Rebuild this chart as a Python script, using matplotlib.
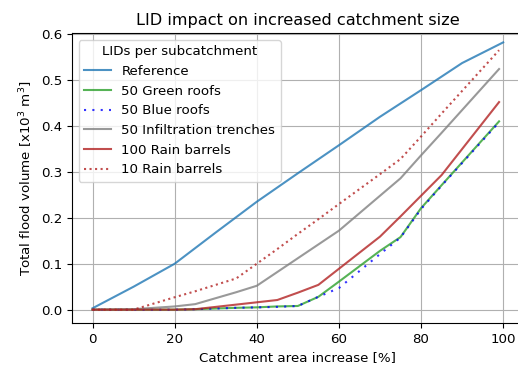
import numpy as np
import matplotlib
matplotlib.use('Agg')
import matplotlib.pyplot as plt

# catchment area increase [%]
area_ref = [0, 10, 20, 30, 40, 50, 60, 70, 80, 90, 100]
area_lid = [0, 10, 20, 25, 35, 40, 45, 50, 55, 60, 70, 75, 80, 85, 99]

# total flood volume [x10^3 m^3]
vol_ref = [0.003, 0.05, 0.1, 0.168, 0.235, 0.297, 0.358, 0.42, 0.478, 0.537, 0.582]
vol_green = [0, 0, 0, 0.001, 0.004, 0.005, 0.007, 0.008, 0.028, 0.061, 0.128, 0.158, 0.221, 0.271, 0.41]
vol_blue = [0, 0, 0, 0.001, 0.004, 0.005, 0.006, 0.008, 0.028, 0.047, 0.121, 0.157, 0.219, 0.27, 0.408]
vol_trench = [0, 0.001, 0.007, 0.012, 0.038, 0.052, 0.082, 0.112, 0.142, 0.172, 0.248, 0.286, 0.336, 0.385, 0.524]
vol_barrel100 = [0, 0, 0, 0.001, 0.011, 0.016, 0.021, 0.037, 0.054, 0.089, 0.159, 0.203, 0.248, 0.293, 0.452]
vol_barrel10 = [0, 0, 0.027, 0.04, 0.068, 0.1, 0.132, 0.165, 0.197, 0.23, 0.295, 0.328, 0.377, 0.427, 0.565]

plt.rcParams['font.size'] = 9.6

fig = plt.figure(figsize=(5.18, 3.69), dpi=100)
ax = fig.add_axes([0.139, 0.124, 0.872, 0.786])

a = 0.8
ax.plot(area_ref, vol_ref, color='C0', alpha=a, label='Reference')
ax.plot(area_lid, vol_green, color='C2', alpha=a, label='50 Green roofs')
ax.plot(area_lid, vol_blue, color='b', alpha=a, linestyle=(0, (1, 3)), label='50 Blue roofs')
ax.plot(area_lid, vol_trench, color='gray', alpha=a, label='50 Infiltration trenches')
ax.plot(area_lid, vol_barrel100, color='firebrick', alpha=a, label='100 Rain barrels')
ax.plot(area_lid, vol_barrel10, color='firebrick', alpha=a, linestyle=':', label='10 Rain barrels')

ax.set_xlim(-5, 105)
ax.set_ylim(-0.0296, 0.602)
ax.set_xticks(np.arange(0, 101, 20))
ax.set_yticks(np.arange(0, 0.61, 0.1))
ax.grid(True)

ax.set_title('LID impact on increased catchment size', fontsize=11.6)
ax.set_xlabel('Catchment area increase [%]')
ax.set_ylabel('Total flood volume [x10$^3$ m$^3$]')
ax.legend(title='LIDs per subcatchment', loc='upper left', title_fontsize=9.6)

fig.savefig('out.png', dpi=100)
